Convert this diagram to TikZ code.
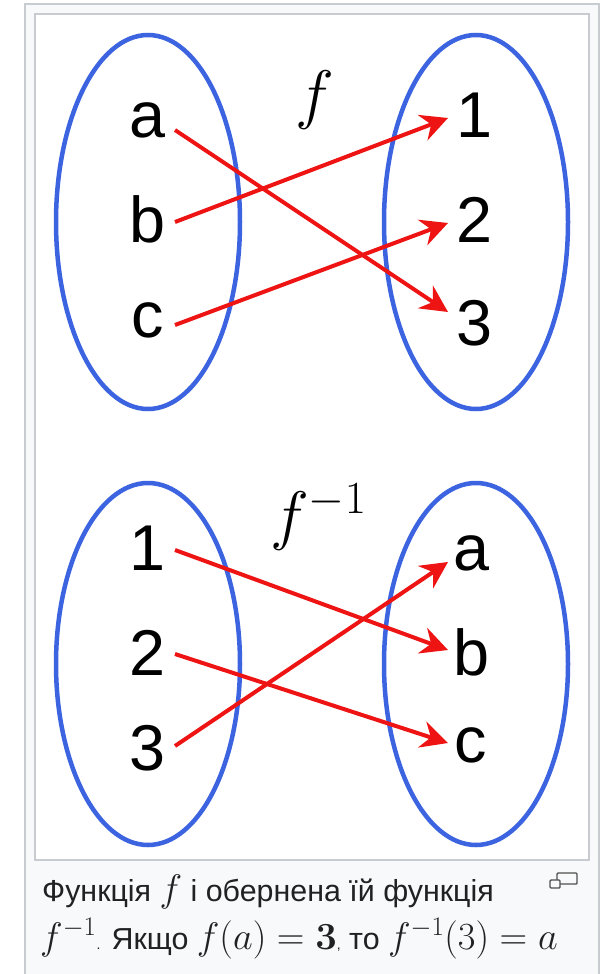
\RequirePackage{fix-cm}
\documentclass[tikz,border=0pt]{standalone}
\usepackage[no-math]{fontspec}
\setmainfont{Liberation Sans}
\usetikzlibrary{arrows.meta}
\definecolor{ellblue}{RGB}{60,100,225}
\definecolor{arrred}{RGB}{238,20,20}
\definecolor{framegray}{RGB}{200,204,209}
\definecolor{capbg}{RGB}{248,249,250}
\definecolor{captxt}{RGB}{32,33,34}
\definecolor{icongray}{RGB}{80,80,80}
\newcommand\capmath[1]{{\fontsize{38.5}{40}\selectfont$#1$}}
\begin{document}
\begin{tikzpicture}[x=1bp,y=-1bp,
  setell/.style={draw=ellblue, line width=4.5bp},
  elem/.style={font=\fontsize{65}{70}\selectfont, inner sep=0pt, anchor=base},
  maparrow/.style={draw=arrred, line width=4bp, -{Stealth[length=27bp,width=27bp,inset=9bp]}},
  fname/.style={font=\fontsize{66}{70}\selectfont, inner sep=0pt},
  captext/.style={font=\fontsize{30.5}{34}\selectfont, text=captxt, inner sep=0pt, anchor=base west},
  iconbox/.style={draw=icongray, line width=1.4bp, rounded corners=1bp}]
\useasboundingbox (0,0) rectangle (605,974);
\fill[white] (0,0) rectangle (605,974);
% frames
\path[fill=capbg, draw=framegray, line width=1.5bp] (25,4) rectangle (599,990);
\path[fill=white, draw=framegray, line width=1.2bp] (35,14) rectangle (589,860);
% ellipses
\draw[setell] (148,222) ellipse [x radius=92, y radius=187];
\draw[setell] (476,222) ellipse [x radius=92, y radius=187];
\draw[setell] (148,664) ellipse [x radius=92, y radius=181];
\draw[setell] (476,664) ellipse [x radius=92, y radius=181];
% top diagram
\node[elem] (a) at (148,137) {a};
\node[elem] (b) at (148,242) {b};
\node[elem] (c) at (148,337) {c};
\node[elem] (t1) at (475,137) {1};
\node[elem] (t2) at (475,242) {2};
\node[elem] (t3) at (475,345) {3};
\node[fname] (f) at (315,100) {$f$};
\coordinate (a-o) at (175,130);
\coordinate (b-o) at (175,222);
\coordinate (c-o) at (175,325);
\coordinate (t1-i) at (448,118);
\coordinate (t2-i) at (448,223);
\coordinate (t3-i) at (448,312);
\draw[maparrow] (a-o) -- (t3-i);
\draw[maparrow] (b-o) -- (t1-i);
\draw[maparrow] (c-o) -- (t2-i);
% bottom diagram
\node[elem] (n1) at (148,570) {1};
\node[elem] (n2) at (148,675) {2};
\node[elem] (n3) at (148,770) {3};
\node[elem] (ra) at (472,570) {a};
\node[elem] (rb) at (472,675) {b};
\node[elem] (rc) at (471,762) {c};
\node[fname, anchor=base west] (finv) at (270,537) {$f^{-1}$};
\coordinate (n1-o) at (175,550);
\coordinate (n2-o) at (175,654);
\coordinate (n3-o) at (175,746);
\coordinate (ra-i) at (448,562);
\coordinate (rb-i) at (448,650);
\coordinate (rc-i) at (448,743);
\draw[maparrow] (n1-o) -- (rb-i);
\draw[maparrow] (n2-o) -- (rc-i);
\draw[maparrow] (n3-o) -- (ra-i);
% caption
\node[captext] (cap1) at (42,901) {Функція \capmath{f} і обернена їй функція};
\node[captext] (cap2) at (40,949) {\capmath{f^{-1}}{\fontsize{14}{16}\selectfont.} Якщо \capmath{f(a)=\mathbf{3}}{\fontsize{14}{16}\selectfont,} то \capmath{f^{-1}(3)=a}};
% enlarge icon
\path[iconbox] (557,873) rectangle (577,884);
\path[iconbox, fill=capbg] (550,880) rectangle (560,888);
\end{tikzpicture}
\end{document}
